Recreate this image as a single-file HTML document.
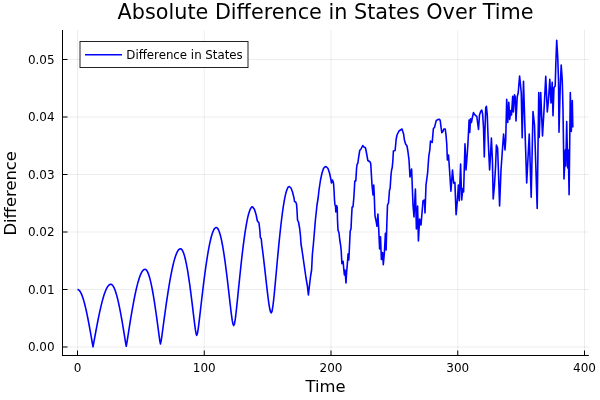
<!DOCTYPE html>
<html><head><meta charset="utf-8"><title>Absolute Difference in States Over Time</title>
<style>
html,body{margin:0;padding:0;background:#fff;}
svg{display:block;will-change:transform;font-family:"DejaVu Sans","Liberation Sans",sans-serif;}
</style></head><body>
<svg width="600" height="400" viewBox="0 0 600 400">
<rect width="600" height="400" fill="#fff"/>
<g stroke="#000" stroke-opacity="0.07" stroke-width="1"><line x1="77.5" y1="30" x2="77.5" y2="355.5"/><line x1="204.25" y1="30" x2="204.25" y2="355.5"/><line x1="331.0" y1="30" x2="331.0" y2="355.5"/><line x1="457.75" y1="30" x2="457.75" y2="355.5"/><line x1="584.5" y1="30" x2="584.5" y2="355.5"/><line x1="62.5" y1="347.0" x2="588.8" y2="347.0"/><line x1="62.5" y1="289.5" x2="588.8" y2="289.5"/><line x1="62.5" y1="232.0" x2="588.8" y2="232.0"/><line x1="62.5" y1="174.5" x2="588.8" y2="174.5"/><line x1="62.5" y1="117.0" x2="588.8" y2="117.0"/><line x1="62.5" y1="59.5" x2="588.8" y2="59.5"/></g>
<g stroke="#000" stroke-width="1" fill="none">
<line x1="62.5" y1="30" x2="62.5" y2="355.5"/>
<line x1="62" y1="355.5" x2="588.8" y2="355.5"/>
<line x1="77.5" y1="355.5" x2="77.5" y2="350.5"/><line x1="204.25" y1="355.5" x2="204.25" y2="350.5"/><line x1="331.0" y1="355.5" x2="331.0" y2="350.5"/><line x1="457.75" y1="355.5" x2="457.75" y2="350.5"/><line x1="584.5" y1="355.5" x2="584.5" y2="350.5"/><line x1="62.5" y1="347.0" x2="67.5" y2="347.0"/><line x1="62.5" y1="289.5" x2="67.5" y2="289.5"/><line x1="62.5" y1="232.0" x2="67.5" y2="232.0"/><line x1="62.5" y1="174.5" x2="67.5" y2="174.5"/><line x1="62.5" y1="117.0" x2="67.5" y2="117.0"/><line x1="62.5" y1="59.5" x2="67.5" y2="59.5"/>
</g>
<polyline fill="none" stroke="#0000ff" stroke-width="1.6" stroke-linejoin="round" points="77.50,289.50 78.15,289.62 78.79,289.99 79.44,290.60 80.08,291.46 80.73,292.55 81.38,293.88 82.02,295.43 82.67,297.20 83.31,299.19 83.96,301.38 84.60,303.77 85.25,306.34 85.90,309.09 86.54,312.00 87.19,315.05 87.83,318.25 88.48,321.57 89.13,325.00 89.77,328.52 90.42,332.12 91.06,335.78 91.71,339.49 92.36,343.24 93.00,346.83 93.74,342.89 94.48,338.81 95.22,334.76 95.96,330.76 96.70,326.83 97.44,322.99 98.18,319.25 98.92,315.63 99.66,312.15 100.40,308.81 101.13,305.64 101.87,302.64 102.61,299.84 103.35,297.23 104.09,294.84 104.83,292.67 105.57,290.74 106.31,289.04 107.05,287.60 107.79,286.41 108.53,285.47 109.27,284.80 110.01,284.40 110.75,284.27 111.39,284.40 112.04,284.80 112.68,285.47 113.33,286.40 113.98,287.60 114.62,289.04 115.27,290.74 115.91,292.67 116.56,294.84 117.21,297.23 117.85,299.83 118.50,302.64 119.14,305.63 119.79,308.81 120.43,312.14 121.08,315.63 121.73,319.25 122.37,322.98 123.02,326.82 123.66,330.75 124.31,334.74 124.96,338.78 125.60,342.83 126.25,346.25 127.03,341.86 127.81,336.83 128.59,331.82 129.37,326.87 130.15,322.00 130.93,317.24 131.72,312.61 132.50,308.12 133.28,303.81 134.06,299.67 134.84,295.74 135.62,292.03 136.40,288.55 137.18,285.32 137.96,282.36 138.75,279.67 139.53,277.28 140.31,275.18 141.09,273.39 141.87,271.91 142.65,270.75 143.43,269.93 144.21,269.43 144.99,269.26 145.64,269.43 146.29,269.92 146.93,270.75 147.58,271.90 148.22,273.38 148.87,275.17 149.52,277.26 150.16,279.66 150.81,282.34 151.45,285.30 152.10,288.52 152.75,291.99 153.39,295.69 154.04,299.61 154.68,303.74 155.33,308.04 155.97,312.51 156.62,317.12 157.27,321.85 157.91,326.67 158.56,331.54 159.20,336.41 159.85,341.08 160.50,343.95 161.33,339.89 162.16,333.82 163.00,327.60 163.83,321.40 164.66,315.28 165.50,309.29 166.33,303.45 167.16,297.80 168.00,292.35 168.83,287.13 169.66,282.17 170.50,277.48 171.33,273.09 172.16,269.02 173.00,265.28 173.83,261.88 174.66,258.86 175.50,256.21 176.33,253.94 177.16,252.08 178.00,250.62 178.83,249.57 179.66,248.94 180.50,248.73 181.17,248.94 181.85,249.56 182.53,250.59 183.21,252.03 183.88,253.87 184.56,256.10 185.24,258.72 185.91,261.70 186.59,265.04 187.27,268.72 187.94,272.72 188.62,277.03 189.30,281.62 189.98,286.47 190.65,291.55 191.33,296.84 192.01,302.29 192.68,307.88 193.36,313.53 194.04,319.18 194.72,324.67 195.39,329.72 196.07,333.70 196.75,335.33 197.56,332.97 198.37,327.58 199.18,321.03 200.00,314.08 200.81,307.03 201.62,300.02 202.44,293.13 203.25,286.41 204.06,279.91 204.87,273.68 205.69,267.73 206.50,262.11 207.31,256.84 208.13,251.94 208.94,247.44 209.75,243.36 210.56,239.71 211.38,236.52 212.19,233.79 213.00,231.55 213.81,229.79 214.63,228.53 215.44,227.77 216.25,227.51 216.98,227.76 217.71,228.50 218.44,229.74 219.17,231.45 219.90,233.65 220.63,236.31 221.35,239.42 222.08,242.97 222.81,246.94 223.54,251.31 224.27,256.06 225.00,261.16 225.73,266.58 226.46,272.30 227.19,278.26 227.91,284.44 228.64,290.76 229.37,297.17 230.10,303.55 230.83,309.78 231.56,315.60 232.29,320.63 233.02,324.22 233.74,325.55 234.53,323.72 235.31,318.94 236.09,312.49 236.87,305.21 237.65,297.56 238.43,289.79 239.22,282.06 240.00,274.46 240.78,267.07 241.56,259.95 242.34,253.14 243.12,246.68 243.91,240.62 244.69,234.97 245.47,229.79 246.25,225.07 247.03,220.86 247.81,217.17 248.60,214.02 249.38,211.42 250.16,209.39 250.94,207.93 251.72,207.05 252.50,206.76 254.50,209.50 256.20,215.00 257.30,220.75 259.00,223.00 259.90,230.90 260.35,237.60 261.25,238.75 261.80,244.40 262.66,251.04 263.44,257.44 264.22,264.09 265.00,270.91 265.78,277.84 266.56,284.77 267.34,291.55 268.13,297.99 268.91,303.79 269.69,308.56 270.47,311.76 271.25,312.90 272.00,311.39 272.75,307.23 273.50,301.19 274.25,293.99 275.00,286.14 275.75,277.98 276.50,269.71 277.25,261.50 278.00,253.44 278.75,245.63 279.50,238.13 280.25,230.99 281.00,224.27 281.75,218.00 282.50,212.23 283.25,206.98 284.00,202.28 284.75,198.16 285.50,194.64 286.25,191.73 287.00,189.46 287.75,187.83 288.50,186.85 289.25,186.50 291.00,188.00 292.50,192.00 294.00,198.00 294.50,201.50 295.70,202.00 296.50,204.00 297.00,210.00 297.50,220.00 298.50,222.00 299.60,228.00 300.50,236.00 301.00,244.00 302.00,250.00 304.00,264.00 306.00,278.00 307.40,286.00 308.40,295.00 309.40,286.00 310.60,276.00 311.60,270.00 312.40,254.00 313.40,244.00 314.40,232.00 315.40,220.00 317.00,205.00 318.20,197.50 319.00,190.00 320.50,180.00 322.00,173.00 323.50,168.50 324.50,167.30 326.00,166.50 328.00,168.50 329.50,173.00 330.80,179.00 331.50,183.00 332.50,180.00 333.50,183.00 334.00,190.00 334.50,200.00 335.00,205.00 335.50,206.00 335.80,212.00 336.50,205.50 337.20,207.00 337.50,220.00 338.00,230.00 339.00,233.00 339.75,240.00 340.60,245.00 341.25,251.25 341.90,263.75 343.10,261.25 343.75,268.75 344.40,275.00 345.00,270.00 346.00,283.00 346.60,272.50 347.50,262.00 348.10,253.75 348.80,260.00 349.40,248.00 350.20,231.00 351.00,229.00 351.50,218.00 352.10,207.00 353.00,207.00 353.80,198.00 354.30,190.00 354.80,181.00 355.80,181.00 356.60,168.00 357.10,164.25 357.90,163.10 358.60,157.50 359.75,150.40 360.90,149.25 362.00,147.00 362.75,145.50 363.90,147.00 365.40,147.75 366.10,150.75 366.90,155.25 367.85,160.50 369.10,161.25 370.10,162.00 370.75,163.75 371.25,172.50 372.00,185.00 372.50,190.00 373.00,195.00 373.75,185.00 374.25,195.00 374.75,210.00 375.00,215.80 376.10,221.00 377.00,226.30 377.90,214.00 378.75,229.80 379.60,249.00 380.50,236.80 381.40,259.50 382.60,252.50 383.30,264.80 384.40,252.50 385.40,233.30 386.10,250.00 386.80,225.00 387.50,205.00 388.50,203.00 389.50,190.00 390.10,188.75 391.00,175.00 391.60,170.00 392.25,167.50 392.90,160.00 393.40,151.00 395.10,150.50 396.20,139.00 397.00,135.00 399.00,131.00 402.00,129.00 403.60,134.00 404.40,140.00 405.60,144.00 407.00,146.00 408.00,152.00 409.00,160.00 410.00,177.00 411.60,169.00 412.00,179.00 413.00,205.00 414.00,217.00 415.40,189.00 416.40,229.00 417.60,206.00 418.40,241.00 419.60,219.00 421.00,225.00 423.00,201.00 424.40,200.00 425.00,213.00 426.00,185.00 427.60,173.00 428.75,156.70 429.80,150.00 430.50,141.00 432.20,142.50 433.40,128.50 434.50,127.40 436.20,120.60 437.90,119.50 439.60,119.30 440.30,121.00 441.00,127.00 441.80,132.70 443.00,131.20 443.75,129.00 445.25,129.00 446.00,135.00 446.75,144.00 447.40,160.00 448.50,155.00 449.60,171.00 450.90,191.20 452.50,170.00 453.70,183.30 454.90,182.40 456.10,214.80 457.20,202.50 458.40,185.00 459.30,200.80 460.60,164.00 461.70,200.00 462.80,188.50 463.60,192.00 465.00,143.75 466.00,170.00 466.90,158.75 467.75,146.25 468.50,132.50 469.10,120.00 469.75,132.50 470.50,118.75 471.40,122.50 472.25,118.00 473.50,112.50 474.50,114.40 475.75,115.60 476.75,116.25 477.60,122.50 478.50,129.40 479.50,115.00 480.75,111.25 481.75,110.00 482.60,113.75 483.50,127.50 484.30,157.00 485.10,126.25 485.75,107.50 486.40,106.25 487.25,115.00 488.20,140.00 489.60,170.00 490.50,155.00 491.40,138.00 492.40,160.00 493.20,199.00 494.40,186.00 495.60,166.00 496.40,145.00 497.60,148.00 498.40,170.00 499.60,206.00 501.00,170.00 502.40,150.00 503.60,134.00 505.00,150.00 505.70,140.00 506.70,99.25 507.75,122.50 508.80,102.25 509.70,119.50 510.75,110.50 511.50,115.00 512.70,96.25 513.30,112.00 514.50,94.75 515.25,97.00 516.00,121.00 517.20,97.00 518.25,92.50 519.60,76.00 521.25,92.50 522.20,137.75 523.50,81.25 525.00,130.00 526.70,183.00 529.25,134.00 531.20,197.25 533.00,111.50 534.50,125.00 537.20,208.50 538.75,92.50 539.20,137.50 540.70,92.50 542.50,136.00 544.00,110.50 545.75,76.25 547.30,112.00 548.50,100.00 549.80,79.25 551.00,103.00 552.20,82.25 553.00,115.75 554.00,87.50 555.20,86.00 555.80,65.00 556.70,40.20 557.75,57.50 558.50,80.00 559.00,132.25 560.20,88.00 561.20,65.00 562.25,80.00 563.00,110.00 564.00,179.00 565.30,150.00 565.80,166.00 566.70,121.50 567.70,168.00 568.30,150.00 569.10,194.80 570.30,92.50 571.30,131.50 572.30,100.50 572.80,127.60"/>
<g fill="#000" font-size="12"><text x="77.5" y="371.7" text-anchor="middle">0</text><text x="204.25" y="371.7" text-anchor="middle">100</text><text x="331.0" y="371.7" text-anchor="middle">200</text><text x="457.75" y="371.7" text-anchor="middle">300</text><text x="584.5" y="371.7" text-anchor="middle">400</text><text x="54.6" y="351.30" text-anchor="end">0.00</text><text x="54.6" y="293.80" text-anchor="end">0.01</text><text x="54.6" y="236.30" text-anchor="end">0.02</text><text x="54.6" y="178.80" text-anchor="end">0.03</text><text x="54.6" y="121.30" text-anchor="end">0.04</text><text x="54.6" y="63.80" text-anchor="end">0.05</text></g>
<text x="325.6" y="18.8" text-anchor="middle" font-size="20.75" fill="#000">Absolute Difference in States Over Time</text>
<text x="325.6" y="392" text-anchor="middle" font-size="16.4" fill="#000">Time</text>
<text transform="translate(16,193.3) rotate(-90)" text-anchor="middle" font-size="16.4" fill="#000">Difference</text>
<rect x="80" y="41.5" width="168" height="26" fill="#fff" stroke="#222" stroke-width="1"/>
<line x1="85" y1="54.8" x2="122" y2="54.8" stroke="#0000ff" stroke-width="1.6"/>
<text x="126.3" y="59" font-size="11.8" fill="#000">Difference in States</text>
</svg>
</body></html>
